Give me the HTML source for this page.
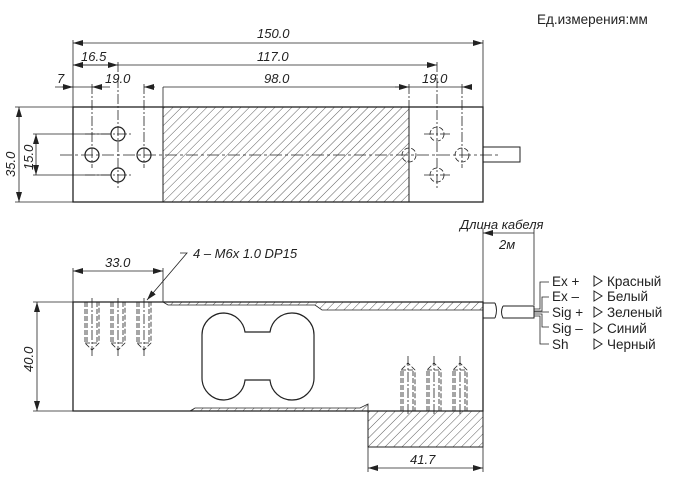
<!DOCTYPE html>
<html><head><meta charset="utf-8"><style>
html,body{margin:0;padding:0;background:#fff}
svg{display:block}
text{font-family:"Liberation Sans",sans-serif;fill:#222}
.d{font-style:italic;font-size:13px}
</style></head><body>
<svg width="677" height="478" viewBox="0 0 677 478" xmlns="http://www.w3.org/2000/svg">
<defs>
<pattern id="h" width="6" height="6" patternUnits="userSpaceOnUse" patternTransform="rotate(45)">
<line x1="0" y1="0" x2="0" y2="6" stroke="#333" stroke-width="0.8"/>
</pattern>
<marker id="a" viewBox="0 0 10 6" refX="10" refY="3" markerWidth="10" markerHeight="6" orient="auto-start-reverse" markerUnits="userSpaceOnUse">
<path d="M0,0 L10,3 L0,6z" fill="#222"/>
</marker>
</defs>
<text x="537" y="24" font-size="13.5">Ед.измерения:мм</text>
<g stroke="#222" stroke-width="0.8" fill="none">
<rect x="73" y="107" width="410" height="95" stroke-width="1.3"/>
<rect x="163" y="107" width="246" height="95" fill="url(#h)" stroke-width="1"/>
<rect x="483" y="147" width="37" height="15" stroke-width="1"/>
<line x1="60" y1="155" x2="498" y2="155" stroke-dasharray="12,3,3,3"/>
<g stroke-width="1.2">
<circle cx="92" cy="155" r="7"/><circle cx="144" cy="155" r="7"/>
<circle cx="118" cy="134" r="7"/><circle cx="118" cy="175" r="7"/>
</g>
<g stroke-dasharray="5,2">
<circle cx="409" cy="155" r="7"/><circle cx="462" cy="155" r="7"/>
<circle cx="437" cy="134" r="7"/><circle cx="437" cy="175" r="7"/>
</g>
<g stroke-dasharray="10,2,2,2">
<line x1="118" y1="62" x2="118" y2="190"/><line x1="92" y1="84" x2="92" y2="168"/><line x1="144" y1="84" x2="144" y2="168"/>
<line x1="437" y1="62" x2="437" y2="190"/><line x1="409" y1="84" x2="409" y2="168"/><line x1="462" y1="84" x2="462" y2="168"/>
<line x1="85" y1="134" x2="132" y2="134"/><line x1="85" y1="175" x2="132" y2="175"/>
<line x1="424" y1="134" x2="450" y2="134"/><line x1="424" y1="175" x2="450" y2="175"/>
</g>
<line x1="73" y1="40" x2="73" y2="107"/><line x1="483" y1="40" x2="483" y2="107"/>
<line x1="73" y1="43" x2="483" y2="43" marker-start="url(#a)" marker-end="url(#a)"/>
<line x1="73" y1="65" x2="437" y2="65" marker-start="url(#a)" marker-end="url(#a)"/>
<line x1="73" y1="65" x2="118" y2="65" marker-start="url(#a)" marker-end="url(#a)"/>
<line x1="163" y1="87" x2="163" y2="107"/>
<line x1="163" y1="87" x2="409" y2="87"/>
<line x1="55" y1="87" x2="73" y2="87" marker-end="url(#a)"/>
<line x1="92" y1="87" x2="102" y2="87" marker-start="url(#a)"/>
<line x1="144" y1="87" x2="155" y2="87" marker-start="url(#a)"/>
<line x1="62" y1="87" x2="110" y2="87"/>
<line x1="395" y1="87" x2="409" y2="87" marker-end="url(#a)"/>
<line x1="409" y1="87" x2="462" y2="87"/>
<line x1="462" y1="87" x2="472" y2="87" marker-start="url(#a)"/>
<line x1="15" y1="107" x2="73" y2="107"/><line x1="15" y1="202" x2="73" y2="202"/>
<line x1="19" y1="107" x2="19" y2="202" marker-start="url(#a)" marker-end="url(#a)"/>
<line x1="33" y1="134" x2="111" y2="134"/><line x1="33" y1="175" x2="111" y2="175"/>
<line x1="36" y1="134" x2="36" y2="175" marker-start="url(#a)" marker-end="url(#a)"/>
<path d="M73,302 H483 V411 H73 Z" stroke-width="1.3"/>
<path d="M163,302 L168,305 H315 L322,310 H483 V302 H163Z" fill="url(#h)"/>
<path d="M190,411 L195,408 H360 L368,404 V411Z" fill="url(#h)"/>
<rect x="368" y="411" width="115" height="36" fill="url(#h)" stroke-width="1"/>
<path d="M224,313 A22,22 0 0 1 245,332 H270 A22,22 0 0 1 292,313 A22,22 0 0 1 314,335 V378 A22,22 0 0 1 292,400 A22,22 0 0 1 270,380 H245 A22,22 0 0 1 224,400 A22,22 0 0 1 202,378 V335 A22,22 0 0 1 224,313Z" stroke-width="1.2"/>
<g stroke-dasharray="5,2">
<path d="M85,302 V343 L92,350 L99,343 V302 M87,302 V343 M97,302 V343 M85,343 H99"/>
<path d="M111,302 V343 L118,350 L125,343 V302 M113,302 V343 M123,302 V343 M111,343 H125"/>
<path d="M137,302 V343 L144,350 L151,343 V302 M139,302 V343 M149,302 V343 M137,343 H151"/>
<path d="M401,411 V370 L408,363 L415,370 V411 M403,411 V370 M413,411 V370 M401,370 H415"/>
<path d="M427,411 V370 L434,363 L441,370 V411 M429,411 V370 M439,411 V370 M427,370 H441"/>
<path d="M453,411 V370 L460,363 L467,370 V411 M455,411 V370 M465,411 V370 M453,370 H467"/>
</g>
<g stroke-dasharray="10,2,2,2"><line x1="92" y1="298" x2="92" y2="356"/><line x1="118" y1="298" x2="118" y2="356"/><line x1="144" y1="298" x2="144" y2="356"/><line x1="408" y1="356" x2="408" y2="415"/><line x1="434" y1="356" x2="434" y2="415"/><line x1="460" y1="356" x2="460" y2="415"/></g>
<path d="M483,303 H495 M483,318 H495 M495,303 Q498,310 495,318" stroke-width="1"/>
<path d="M503,306 H534 V318 H503 Q500,312 503,306" stroke-width="1"/>
<path d="M534,309 H540 V282 H549 M534,311 H542 V297 H549 M534,312 H549 M534,314 H542 V327 H549 M534,316 H540 V344 H549"/>
<line x1="73" y1="268" x2="73" y2="302"/><line x1="163" y1="268" x2="163" y2="302"/>
<line x1="73" y1="271" x2="163" y2="271" marker-start="url(#a)" marker-end="url(#a)"/>
<path d="M180,253 H187 L147,300" marker-end="url(#a)"/>
<line x1="33" y1="302" x2="73" y2="302"/><line x1="33" y1="411" x2="73" y2="411"/>
<line x1="37" y1="302" x2="37" y2="411" marker-start="url(#a)" marker-end="url(#a)"/>
<line x1="368" y1="447" x2="368" y2="472"/><line x1="483" y1="447" x2="483" y2="472"/>
<line x1="368" y1="468" x2="483" y2="468" marker-start="url(#a)" marker-end="url(#a)"/>
<line x1="483" y1="228" x2="483" y2="302"/><line x1="534" y1="228" x2="534" y2="305"/>
<line x1="483" y1="233" x2="534" y2="233" marker-start="url(#a)"/>
<g stroke-width="1">
<path d="M594,276 L602,281 L594,286Z"/><path d="M594,291 L602,296 L594,301Z"/><path d="M594,307 L602,312 L594,317Z"/><path d="M594,323 L602,328 L594,333Z"/><path d="M594,339 L602,344 L594,349Z"/>
</g>
</g>
<text class="d" x="257" y="38">150.0</text>
<text class="d" x="81" y="61">16.5</text>
<text class="d" x="257" y="61">117.0</text>
<text class="d" x="57" y="83">7</text>
<text class="d" x="105" y="83">19.0</text>
<text class="d" x="264" y="83">98.0</text>
<text class="d" x="422" y="83">19.0</text>
<text class="d" transform="translate(15,177) rotate(-90)">35.0</text>
<text class="d" transform="translate(33,170) rotate(-90)">15.0</text>
<text class="d" x="105" y="267">33.0</text>
<text class="d" x="193" y="258">4 – M6x 1.0 DP15</text>
<text class="d" transform="translate(33,372) rotate(-90)">40.0</text>
<text class="d" x="410" y="464">41.7</text>
<text class="d" x="460" y="229">Длина кабеля</text>
<text class="d" x="499" y="249">2м</text>
<g font-size="13.5">
<text x="552" y="286">Ex +</text><text x="552" y="301">Ex –</text><text x="552" y="317">Sig +</text><text x="552" y="333">Sig –</text><text x="552" y="349">Sh</text>
<text x="607" y="286">Красный</text><text x="607" y="301">Белый</text><text x="607" y="317">Зеленый</text><text x="607" y="333">Синий</text><text x="607" y="349">Черный</text>
</g>
</svg>
</body></html>
